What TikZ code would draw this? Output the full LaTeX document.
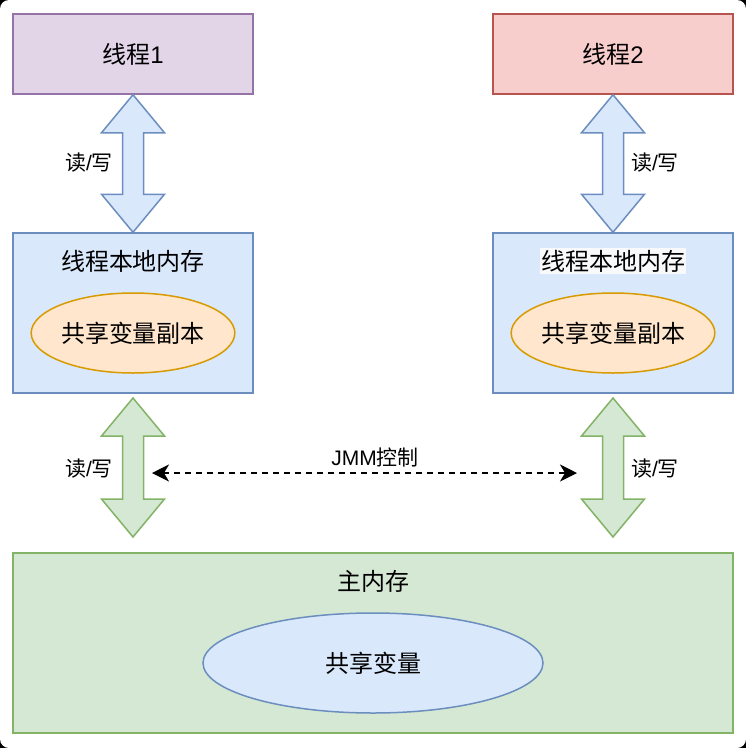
\documentclass[tikz,border=0pt]{standalone}
\usepackage{fontspec}
\setmainfont{Noto Sans CJK SC}
\newfontfamily\latinfont{Liberation Sans}
\usetikzlibrary{arrows.meta, shapes.geometric, calc}

\definecolor{threadfillA}{HTML}{E1D5E7}
\definecolor{threadlineA}{HTML}{9673A6}
\definecolor{threadfillB}{HTML}{F8CECC}
\definecolor{threadlineB}{HTML}{B85450}
\definecolor{memfill}{HTML}{DAE8FC}
\definecolor{memline}{HTML}{6C8EBF}
\definecolor{copyfill}{HTML}{FFE6CC}
\definecolor{copyline}{HTML}{D79B00}
\definecolor{mainfill}{HTML}{D5E8D4}
\definecolor{mainline}{HTML}{82B366}
\definecolor{labelbg}{HTML}{F8F9FA}

\begin{document}
\begin{tikzpicture}[x=1pt, y=-1pt, >=Stealth,
    box/.style={draw, line width=1.5pt, minimum width=240, minimum height=80, inner sep=0pt,
        font=\fontsize{24}{28}\selectfont},
    oval/.style={ellipse, draw, line width=1.5pt, inner sep=0pt, font=\fontsize{24}{28}\selectfont},
    big/.style={font=\fontsize{24}{28}\selectfont},
    rw/.style={font=\fontsize{21}{25}\selectfont},
    bluearrow/.style={draw=memline, fill=memfill, line width=1.5pt, line join=miter},
    greenarrow/.style={draw=mainline, fill=mainfill, line width=1.5pt, line join=miter}]
    \useasboundingbox (0,0) rectangle (746,748);
    % Background
    \fill[black] (0,0) rectangle (746,748);
    \fill[white, rounded corners=9pt] (0,0) rectangle (746,748);

    % Threads
    \node[box, fill=threadfillA, draw=threadlineA] (t1) at (133,54) {线程{\latinfont 1}};
    \node[box, fill=threadfillB, draw=threadlineB] (t2) at (613,54) {线程{\latinfont 2}};

    % Local memories
    \node[box, fill=memfill, draw=memline, minimum height=160] (mem1) at (133,313) {};
    \node[big] (mem1txt) at (133,261) {线程本地内存};
    \node[oval, fill=copyfill, draw=copyline, minimum width=200, minimum height=80] (copy1) at (133,333) {共享变量副本};
    \node[box, fill=memfill, draw=memline, minimum height=160] (mem2) at (613,313) {};
    \node[big, fill=labelbg, inner xsep=1pt, inner ysep=1.5pt] (mem2txt) at (613,261) {线程本地内存};
    \node[oval, fill=copyfill, draw=copyline, minimum width=200, minimum height=80] (copy2) at (613,333) {共享变量副本};

    % Main memory
    \node[box, fill=mainfill, draw=mainline, minimum width=720, minimum height=180] (main) at (373,643) {};
    \node[big] (maintxt) at (373,581) {主内存};
    \node[oval, fill=memfill, draw=memline, minimum width=340, minimum height=100] (shared) at (373,663) {共享变量};

    % Read/write arrows
    \coordinate (g1top) at (133,398);
    \coordinate (g1bot) at (133,537);
    \coordinate (g2top) at (613,398);
    \coordinate (g2bot) at (613,537);
    \foreach \a/\b/\s in {t1.south/mem1.north/bluearrow, t2.south/mem2.north/bluearrow,
                          g1top/g1bot/greenarrow, g2top/g2bot/greenarrow}
        \draw[\s] let \p1=(\a), \p2=(\b) in
            (\x1,\y1) -- (\x1+31.5pt,\y1-38pt) -- (\x1+10.5pt,\y1-38pt) -- (\x1+10.5pt,\y2+38pt)
            -- (\x1+31.5pt,\y2+38pt) -- (\x1,\y2) -- (\x1-31.5pt,\y2+38pt) -- (\x1-10.5pt,\y2+38pt)
            -- (\x1-10.5pt,\y1-38pt) -- (\x1-31.5pt,\y1-38pt) -- cycle;
    \node[rw] (rw1) at (89,163) {读{\latinfont /}写};
    \node[rw] (rw2) at (655,163) {读{\latinfont /}写};
    \node[rw] (rw3) at (89,469) {读{\latinfont /}写};
    \node[rw] (rw4) at (655,469) {读{\latinfont /}写};

    % JMM control
    \coordinate (jmmL) at (152,473);
    \coordinate (jmmR) at (577,473);
    \draw[{Stealth[length=17pt, width=17pt, inset=5pt]}-{Stealth[length=17pt, width=17pt, inset=5pt]},
        line width=1.6pt, dash pattern=on 6pt off 5pt] (jmmL) -- (jmmR)
        node[rw, pos=0.525, above=2pt] (jmm) {{\latinfont JMM}控制};
\end{tikzpicture}
\end{document}
